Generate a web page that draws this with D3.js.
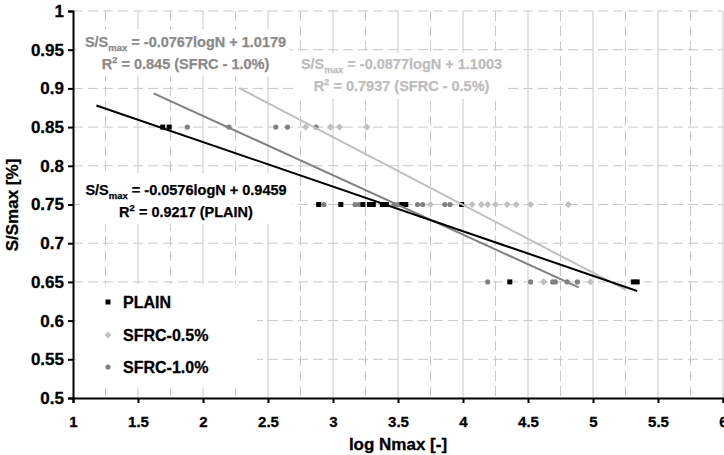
<!DOCTYPE html>
<html>
<head>
<meta charset="utf-8">
<script src="https://cdn.jsdelivr.net/npm/d3@7"></script>
<style>
  html, body { margin: 0; padding: 0; background: #fff; }
  svg { display: block; font-family: "Liberation Sans", Arial, sans-serif; font-weight: bold; }
</style>
</head>
<body>
<svg id="chart" width="724" height="455"></svg>
<script>
// ---- data ----
const plainX  = [1.69, 1.74, 2.89, 3.06, 3.23, 3.28, 3.31, 3.38, 3.41, 3.53, 3.56, 3.99, 4.36, 5.31, 5.34];
const plainY  = [0.85, 0.85, 0.75, 0.75, 0.75, 0.75, 0.75, 0.75, 0.75, 0.75, 0.75, 0.75, 0.65, 0.65, 0.65];
const sfrc05X = [2.79, 2.98, 3.05, 3.26, 3.75, 4.07, 4.14, 4.19, 4.25, 4.34, 4.41, 4.52, 4.81, 4.62, 4.98];
const sfrc05Y = [0.85, 0.85, 0.85, 0.85, 0.75, 0.75, 0.75, 0.75, 0.75, 0.75, 0.75, 0.75, 0.75, 0.65, 0.65];
const sfrc10X = [1.88, 2.20, 2.56, 2.65, 2.87, 2.93, 3.17, 3.20, 3.47, 3.50, 3.65, 3.69, 3.86, 3.90, 4.19, 4.52, 4.69, 4.71, 4.80, 4.88];
const sfrc10Y = [0.85, 0.85, 0.85, 0.85, 0.85, 0.75, 0.75, 0.75, 0.75, 0.75, 0.75, 0.75, 0.75, 0.75, 0.65, 0.65, 0.65, 0.65, 0.65, 0.65];

// trendlines: slope, intercept, x-range
const trendPlain = {slope: -0.0576, intercept: 0.9459, x0: 1.18, x1: 5.34};
const trend10    = {slope: -0.0767, intercept: 1.0179, x0: 1.62, x1: 4.89};
const trend05    = {slope: -0.0877, intercept: 1.1003, x0: 2.28, x1: 5.25};

const xTicks = [1, 1.5, 2, 2.5, 3, 3.5, 4, 4.5, 5, 5.5, 6];
const yTicks = [0.5, 0.55, 0.6, 0.65, 0.7, 0.75, 0.8, 0.85, 0.9, 0.95, 1];
const xMinorTicks = [1.25, 1.75, 2.25, 2.75, 3.25, 3.75, 4.25, 4.75, 5.25, 5.75];

const legendLabels = ["PLAIN", "SFRC-0.5%", "SFRC-1.0%"];
const xTitle = "log Nmax [-]";
const yTitle = "S/Smax [%]";

// ---- styles ----
const C_PLAIN = "#000000", C_05 = "#c0c0c0", C_10 = "#808080";
const T_05 = "#bdbdbd", T_10 = "#8a8a8a";
const GRID = "#c8c8c8";

const svg = d3.select("#chart");
const x = d3.scaleLinear().domain([1, 6]).range([73, 723]);
const y = d3.scaleLinear().domain([0.5, 1]).range([398, 11]);

// grid
const g = svg.append("g");
g.selectAll("line.hg").data(yTicks.filter(d => d > 0.5)).join("line")
  .attr("x1", x(1)).attr("x2", x(6)).attr("y1", d => y(d)).attr("y2", d => y(d))
  .attr("stroke", GRID).attr("stroke-width", 1).attr("stroke-dasharray", "10,5");
g.selectAll("line.vm").data(xMinorTicks).join("line")
  .attr("x1", d => x(d)).attr("x2", d => x(d)).attr("y1", y(1)).attr("y2", y(0.5))
  .attr("stroke", GRID).attr("stroke-width", 1).attr("stroke-dasharray", "10,5");
g.selectAll("line.vg").data(xTicks.filter(d => d > 1)).join("line")
  .attr("x1", d => x(d)).attr("x2", d => x(d)).attr("y1", y(1)).attr("y2", y(0.5))
  .attr("stroke", GRID).attr("stroke-width", 1);

// white boxes behind labels
const boxes = [[77, 29, 213, 47], [296, 53, 209, 46], [80, 173, 212, 51], [76, 284, 181, 104]];
svg.append("g").selectAll("rect").data(boxes).join("rect")
  .attr("x", d => d[0]).attr("y", d => d[1]).attr("width", d => d[2]).attr("height", d => d[3])
  .attr("fill", "#fff");

// axes
const xAxis = d3.axisBottom(x).tickValues(xTicks).tickSize(5).tickFormat(d3.format("~g"));
const gx = svg.append("g").attr("transform", `translate(0,${y(0.5)})`).call(xAxis);
gx.select(".domain").attr("stroke", "#000").attr("stroke-width", 2);
gx.selectAll(".tick line").attr("stroke", "#000").attr("stroke-width", 2);
gx.selectAll(".tick text").attr("font-size", 15).attr("font-family", "Liberation Sans, Arial").attr("font-weight", "bold")
  .attr("fill", "#000").attr("y", 18).attr("dy", "0.71em").attr("stroke", "#000").attr("stroke-width", 0.3);

const yAxis = d3.axisLeft(y).tickValues(yTicks).tickSize(5).tickFormat(d3.format("~g"));
const gy = svg.append("g").attr("transform", `translate(${x(1)},0)`).call(yAxis);
gy.select(".domain").attr("stroke", "#000").attr("stroke-width", 2);
gy.selectAll(".tick line").attr("stroke", "#000").attr("stroke-width", 2);
gy.selectAll(".tick text").attr("font-size", 17).attr("font-family", "Liberation Sans, Arial").attr("font-weight", "bold")
  .attr("fill", "#000").attr("x", -9).attr("stroke", "#000").attr("stroke-width", 0.3);
svg.selectAll(".domain").attr("fill", "none");

// points
const pts = svg.append("g");
const sq = 5;
pts.selectAll("circle.s10").data(d3.zip(sfrc10X, sfrc10Y)).join("circle")
  .attr("cx", d => x(d[0])).attr("cy", d => y(d[1])).attr("r", 2.6).attr("fill", C_10);
pts.selectAll("rect.s05").data(d3.zip(sfrc05X, sfrc05Y)).join("rect")
  .attr("x", -2.5).attr("y", -2.5).attr("width", 5).attr("height", 5)
  .attr("transform", d => `translate(${x(d[0])},${y(d[1])}) rotate(45)`).attr("fill", C_05);
pts.selectAll("rect.pl").data(d3.zip(plainX, plainY)).join("rect")
  .attr("x", d => x(d[0]) - sq / 2).attr("y", d => y(d[1]) - sq / 2)
  .attr("width", sq).attr("height", sq).attr("fill", C_PLAIN);

// trendlines
const line = d3.line().x(d => x(d[0])).y(d => y(d[1]));
function trendPts(t) { return [[t.x0, t.slope * t.x0 + t.intercept], [t.x1, t.slope * t.x1 + t.intercept]]; }
svg.append("path").attr("d", line(trendPts(trend05))).attr("stroke", C_05).attr("stroke-width", 2).attr("fill", "none");
svg.append("path").attr("d", line(trendPts(trend10))).attr("stroke", C_10).attr("stroke-width", 2).attr("fill", "none");
svg.append("path").attr("d", line(trendPts(trendPlain))).attr("stroke", C_PLAIN).attr("stroke-width", 2).attr("fill", "none");

// equation labels
function eq(cx, by, slope, intercept, r2, tag, color) {
  const t1 = svg.append("text").attr("x", cx).attr("y", by).attr("text-anchor", "middle")
    .attr("font-size", 14.5).attr("fill", color).attr("stroke", color).attr("stroke-width", 0.25);
  t1.append("tspan").text("S/S");
  t1.append("tspan").attr("font-size", 9.5).attr("dy", 4).text("max");
  t1.append("tspan").attr("dy", -4).text(` = ${slope}logN + ${intercept}`);
  const t2 = svg.append("text").attr("x", cx).attr("y", by + 22).attr("text-anchor", "middle")
    .attr("font-size", 14.5).attr("fill", color).attr("stroke", color).attr("stroke-width", 0.25);
  t2.append("tspan").text("R");
  t2.append("tspan").attr("font-size", 9.5).attr("dy", -6).text("2");
  t2.append("tspan").attr("dy", 6).text(` = ${r2} (${tag})`);
}
eq(185.5, 47, trend10.slope, trend10.intercept, "0.845", "SFRC - 1.0%", T_10);
eq(401.5, 69, trend05.slope, trend05.intercept, "0.7937", "SFRC - 0.5%", T_05);
eq(186, 195, trendPlain.slope, trendPlain.intercept, "0.9217", "PLAIN", C_PLAIN);

// legend
const lg = svg.append("g");
const ly = [302, 335, 367];
lg.append("rect").attr("x", 108 - 2.5).attr("y", ly[0] - 2.5).attr("width", 5).attr("height", 5).attr("fill", C_PLAIN);
lg.append("rect").attr("x", -2.5).attr("y", -2.5).attr("width", 5).attr("height", 5)
  .attr("transform", `translate(108,${ly[1]}) rotate(45)`).attr("fill", C_05);
lg.append("circle").attr("cx", 108).attr("cy", ly[2]).attr("r", 2.6).attr("fill", C_10);
lg.selectAll("text").data(legendLabels).join("text")
  .attr("x", 123).attr("y", (d, i) => ly[i] + 6).attr("font-size", 16).attr("fill", "#000")
  .attr("stroke", "#000").attr("stroke-width", 0.3).text(d => d);

// axis titles
svg.append("text").attr("x", x(3.5)).attr("y", 450).attr("text-anchor", "middle").attr("font-size", 17)
  .attr("stroke", "#000").attr("stroke-width", 0.3).text(xTitle);
svg.append("text").attr("transform", "translate(18,205) rotate(-90)").attr("text-anchor", "middle").attr("font-size", 17)
  .attr("stroke", "#000").attr("stroke-width", 0.3).text(yTitle);
</script>
</body>
</html>
